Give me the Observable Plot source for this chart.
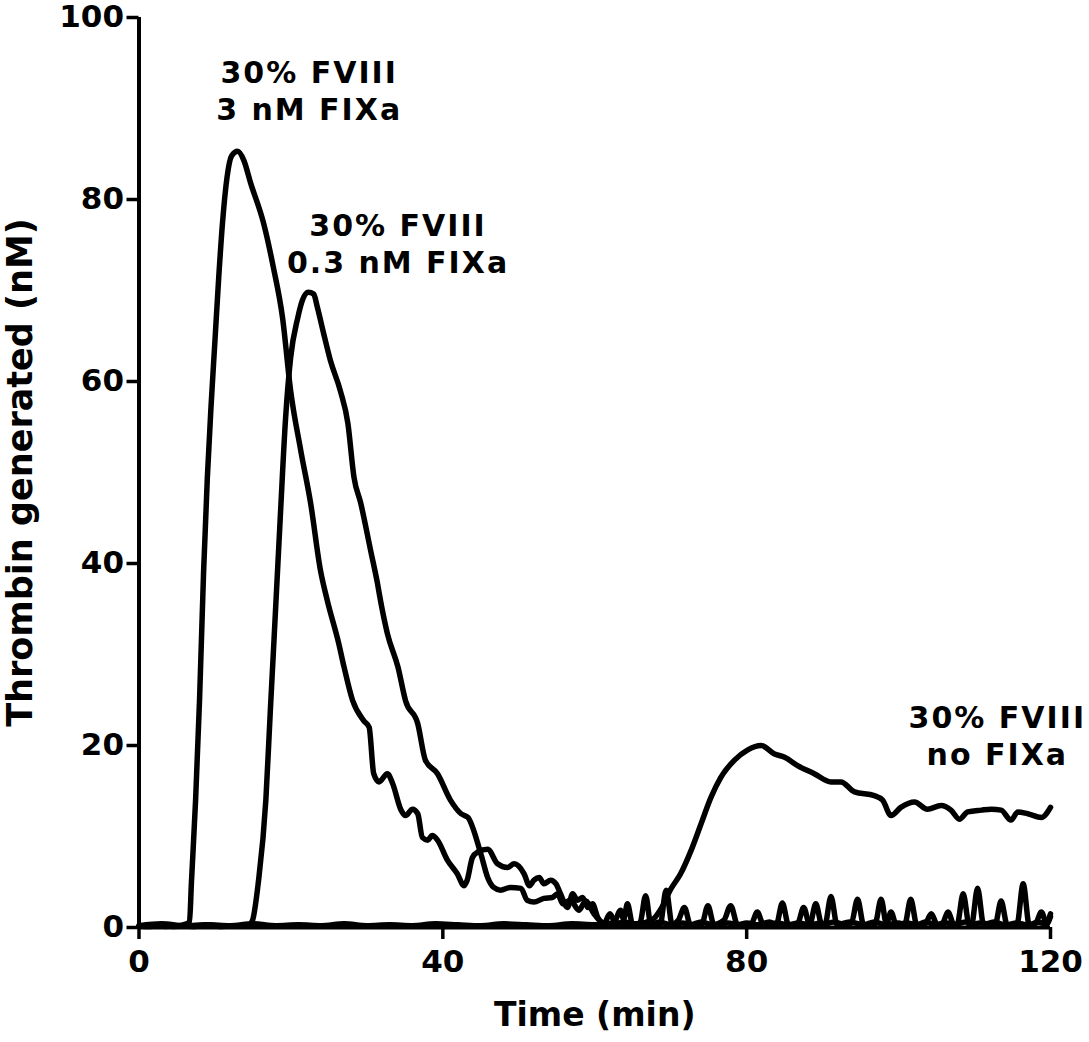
<!DOCTYPE html>
<html><head><meta charset="utf-8">
<script src="https://cdn.jsdelivr.net/npm/d3@7"></script>
<script src="https://cdn.jsdelivr.net/npm/@observablehq/plot@0.6"></script>
<style>html,body{margin:0;padding:0;background:#fff} svg{display:block}</style>
</head><body><div id="chart"></div>
<script>
// [time (min), thrombin (nM)]
const fviii3nM = [[0,0.2],[1.5,0.1],[3,0.3],[4.5,0.1],[5.8,0.3],[6.65,0.6],[6.9,4.9],[7.45,14.0],[7.97,25.0],[8.5,39.0],[9.0,49.5],[9.5,57.5],[10.0,64.5],[10.5,71.5],[11.0,77.5],[11.6,82.5],[12.2,84.8],[12.98,85.3],[13.8,84.3],[14.7,81.8],[16.4,77.4],[17.7,72.5],[18.9,67.0],[19.96,59.0],[21.3,52.4],[22.6,46.6],[23.9,39.2],[24.8,35.9],[26.3,31.2],[27.0,28.6],[28.1,25.0],[29.6,22.7],[30.3,22.0],[30.9,16.9],[31.6,16.0],[32.7,16.9],[33.4,15.8],[34.5,12.9],[35.1,12.3],[36.0,13.0],[36.7,12.5],[37.3,9.9],[38.0,9.6],[38.6,10.1],[39.3,9.6],[40.6,7.4],[41.9,5.9],[42.8,4.6],[43.2,5.2],[43.9,7.7],[44.6,8.3],[45.9,8.6],[47.2,7.0],[48.5,6.6],[49.4,7.0],[50.7,5.9],[51.4,4.6],[52.0,5.2],[52.7,5.5],[53.3,4.8],[54.2,5.2],[54.9,4.8],[55.5,3.7],[56.4,2.2],[57.1,3.7],[57.7,3.0],[58.4,3.3],[59.1,2.2],[59.7,2.6],[60.4,1.1],[61.2,0.4],[62.0,1.5],[62.8,0.4],[64.0,0.6],[65.5,0.3],[66.0,0.6],[66.7,3.5],[67.4,0.3],[68.5,0.6],[70.0,0.3],[71.0,0.8],[71.8,2.2],[72.6,0.3],[74.0,0.6],[75.5,0.3],[77.0,0.8],[77.9,2.4],[78.8,0.3],[80.0,0.5],[81.5,0.3],[83.0,0.6],[83.9,0.3],[84.7,2.7],[85.5,0.3],[86.8,0.5],[88.3,0.3],[89.1,2.6],[89.9,0.3],[91.5,0.6],[93.0,0.3],[93.8,0.5],[94.6,3.1],[95.4,0.3],[96.8,0.6],[98.3,0.3],[100.0,0.5],[100.8,0.3],[101.6,3.1],[102.4,0.3],[103.5,0.6],[105.0,0.3],[105.8,0.5],[106.5,1.7],[107.3,0.3],[108.8,0.6],[109.6,0.3],[110.4,4.3],[111.2,0.3],[112.5,0.6],[114.0,0.3],[115.6,0.4],[116.4,4.8],[117.2,0.3],[118.3,0.6],[119.3,0.4],[120,1.5]];
const fviii03nM = [[0,0.1],[2,0.3],[3.5,0.1],[5,0.2],[7,0.1],[9,0.3],[11,0.1],[13,0.2],[14.4,0.2],[14.95,0.8],[15.7,4.9],[16.7,14.0],[17.3,24.0],[17.7,30.4],[18.6,45.1],[19.3,56.0],[19.96,62.6],[20.9,67.0],[21.5,68.9],[22.3,69.8],[23.0,69.6],[23.5,68.1],[24.3,65.3],[25.2,62.3],[26.5,59.0],[27.5,55.4],[28.3,49.5],[29.2,46.6],[30.5,41.4],[31.4,37.8],[31.8,35.9],[32.7,32.3],[34.1,28.6],[35.1,24.9],[36.7,22.4],[37.7,18.4],[39.3,16.9],[41.0,14.0],[42.4,12.5],[43.3,12.1],[45.0,8.1],[45.9,5.5],[46.7,4.4],[47.6,4.1],[48.9,4.4],[50.3,4.3],[51.1,3.0],[52.0,2.8],[53.3,3.2],[54.4,3.3],[55.1,3.7],[55.8,2.6],[56.8,3.0],[57.9,1.9],[58.8,2.9],[59.9,1.5],[60.6,0.8],[61.5,0.4],[62.5,0.5],[63.4,1.9],[63.8,0.9],[64.3,2.6],[65.0,0.3],[66.5,0.5],[68.6,0.3],[69.4,4.1],[70.2,0.3],[71.5,0.5],[73.0,0.3],[74.1,0.4],[74.9,2.4],[75.7,0.3],[77.5,0.5],[79.0,0.3],[80.6,0.4],[81.4,1.7],[82.2,0.3],[84.0,0.5],[85.5,0.3],[86.7,0.4],[87.5,2.2],[88.3,0.3],[89.8,0.5],[90.3,0.3],[91.1,3.4],[91.9,0.3],[93.5,0.6],[95.5,0.3],[96.9,0.4],[97.7,3.1],[98.4,0.4],[99.0,1.7],[99.7,0.3],[101.0,0.5],[102.7,0.3],[103.5,0.4],[104.3,1.5],[105.1,0.3],[106.3,0.5],[107.7,0.3],[108.5,3.7],[109.3,0.3],[110.8,0.5],[112.7,0.3],[113.5,2.9],[114.3,0.3],[115.5,0.5],[117.0,0.3],[118.0,0.4],[118.8,1.7],[119.5,0.4],[120,1.2]];
const fviiiNoFIXa = [[0,0.2],[3,0.4],[6,0.2],[9,0.3],[12,0.2],[15,0.4],[18,0.2],[21,0.3],[24,0.2],[27,0.4],[30,0.2],[33,0.3],[36,0.2],[39,0.4],[42,0.3],[45,0.2],[48,0.4],[51,0.3],[54,0.2],[57,0.4],[60,0.3],[63,0.5],[65.5,0.4],[67.5,0.8],[68.7,2.0],[70.0,4.2],[71.3,5.9],[72.7,8.5],[74.0,11.4],[75.3,14.3],[76.6,16.5],[78.4,18.4],[80.1,19.5],[81.9,20.0],[83.6,19.1],[85.0,18.7],[86.7,17.8],[88.9,16.9],[91.1,16.0],[92.4,16.0],[94.2,14.9],[96.8,14.5],[97.9,14.0],[99.0,12.3],[100.3,13.2],[102.1,13.8],[103.8,13.0],[105.6,13.4],[106.9,12.9],[108.0,11.9],[109.1,12.7],[110.9,12.9],[112.2,13.0],[113.5,12.9],[114.8,11.8],[115.7,12.7],[117.0,12.5],[118.8,12.1],[120,13.2]];

const xTicks = [0, 40, 80, 120];
const yTicks = [0, 20, 40, 60, 80, 100];
const xTitle = "Time (min)";
const yTitle = "Thrombin generated (nM)";
const annotations = [
  {label: "30% FVIII", t: 22.4, v: 93.9},
  {label: "3 nM FIXa", t: 22.4, v: 89.8},
  {label: "30% FVIII", t: 34.1, v: 77.0},
  {label: "0.3 nM FIXa", t: 34.1, v: 73.0},
  {label: "30% FVIII", t: 113.0, v: 23.0},
  {label: "no FIXa", t: 113.0, v: 18.9}
];

const toRows = (arr, s) => arr.map(([t, v]) => ({series: s, t, v}));
const rows = [
  ...toRows(fviii3nM, "3 nM"),
  ...toRows(fviii03nM, "0.3 nM"),
  ...toRows(fviiiNoFIXa, "none")
];

const font = "DejaVu Sans";
const chart = Plot.plot({
  width: 1089,
  height: 1042,
  marginLeft: 138.5,
  marginRight: 39,
  marginTop: 17,
  marginBottom: 115,
  style: {background: "#fff", color: "#000", fontFamily: font, overflow: "visible"},
  x: {domain: [0, 120]},
  y: {domain: [0, 100]},
  marks: [
    Plot.line(rows, {x: "t", y: "v", z: "series", stroke: "#000", strokeWidth: 5.5, curve: "monotone-x", strokeLinejoin: "round"}),
    Plot.ruleX([0], {y1: 0, y2: 100, stroke: "#000", strokeWidth: 4}),
    Plot.ruleY([0], {x1: 0, x2: 120, stroke: "#000", strokeWidth: 4}),
    Plot.axisY({ticks: yTicks, tickSize: 12, tickPadding: 3, strokeWidth: 3.5, fontSize: 31, fontWeight: "bold", fontFamily: font, label: null}),
    Plot.axisX({ticks: xTicks, tickSize: 12, tickPadding: 10, strokeWidth: 3.5, fontSize: 31, fontWeight: "bold", fontFamily: font, label: null}),
    Plot.text([xTitle], {frameAnchor: "bottom", dy: 98, text: d => d, fontSize: 33, fontWeight: "bold", fontFamily: font, fill: "#000", textAnchor: "middle"}),
    Plot.text([yTitle], {frameAnchor: "left", dx: -118, rotate: -90, text: d => d, fontSize: 35, fontWeight: "bold", fontFamily: font, fill: "#000", textAnchor: "middle"}),
    Plot.text(annotations, {x: "t", y: "v", text: "label", fontSize: 30, fontWeight: "bold", fontFamily: font, fill: "#000", textAnchor: "middle"})
  ]
});
document.getElementById("chart").appendChild(chart);
const annotLabels = new Set(annotations.map(a => a.label));
d3.select(chart).selectAll("text").each(function() {
  const t = this.textContent;
  if (annotLabels.has(t)) d3.select(this).style("letter-spacing", "2px");
});
</script>
</body></html>
